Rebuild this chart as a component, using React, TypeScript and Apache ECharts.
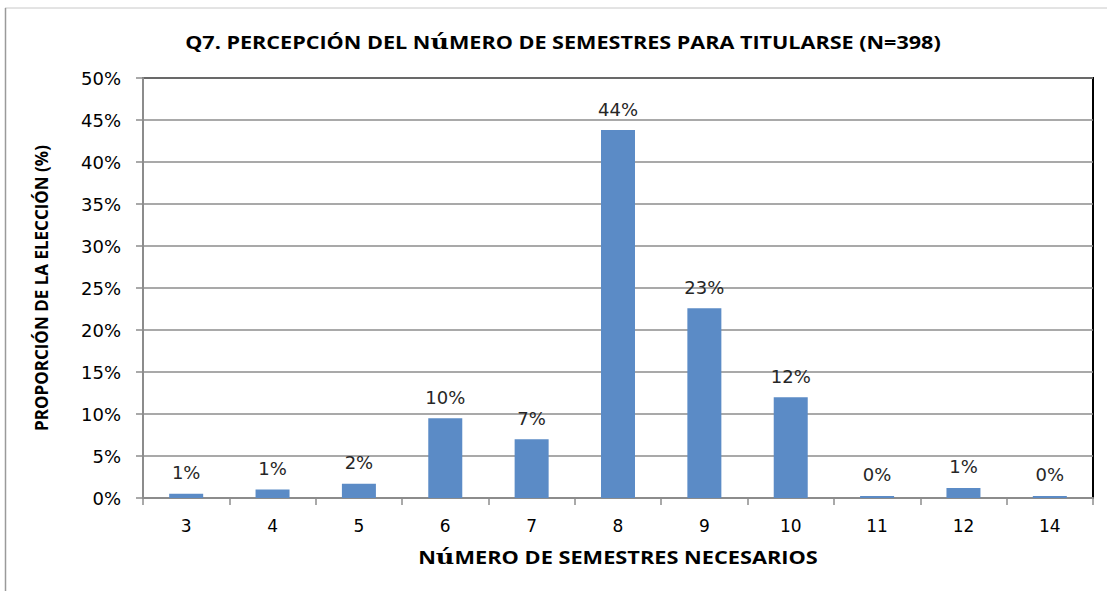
import React, { useEffect, useRef } from "react";
import * as echarts from "echarts";

const categories = ["3", "4", "5", "6", "7", "8", "9", "10", "11", "12", "14"];
const values = [0.5, 1.0, 1.7, 9.5, 7.0, 43.8, 22.6, 12.0, 0.25, 1.2, 0.25];
const valueLabels = ["1%", "1%", "2%", "10%", "7%", "44%", "23%", "12%", "0%", "1%", "0%"];
const yTicks = [0, 5, 10, 15, 20, 25, 30, 35, 40, 45, 50];
const titleText = "Q7. PERCEPCIÓN DEL N{u|ú}MERO DE SEMESTRES PARA TITULARSE (N=398)";
const xName = "N{u|ú}MERO DE SEMESTRES NECESARIOS";
const yName = "PROPORCIÓN DE LA ELECCIÓN (%)";

export default function App() {
  const ref = useRef<HTMLDivElement>(null);
  useEffect(() => {
    if (!ref.current) return;
    const chart = echarts.init(ref.current, undefined, { renderer: "svg" });
    const font = "'Open Sans', 'DejaVu Sans', sans-serif";
    const num = "'DejaVu Sans', sans-serif";
    const rich = {
      u: { fontFamily: "'DejaVu Serif', serif", fontWeight: "bold", fontSize: 20, fill: "#000", color: "#000" },
    };
    chart.setOption({
      animation: false,
      backgroundColor: "#ffffff",
      graphic: [
        { type: "line", shape: { x1: 5, y1: 8, x2: 1107, y2: 8 }, style: { stroke: "#c8c8c8", lineWidth: 1 } },
        { type: "line", shape: { x1: 5.5, y1: 8, x2: 5.5, y2: 591 }, style: { stroke: "#9a9a9a", lineWidth: 1.5 } },
        {
          type: "text",
          x: 563,
          y: 42,
          scaleX: 1.27,
          style: {
            text: titleText,
            align: "center",
            verticalAlign: "middle",
            font: "bold 17px " + font,
            fill: "#000",
            rich,
          },
        },
        {
          type: "text",
          x: 618,
          y: 557,
          scaleX: 1.28,
          style: {
            text: xName,
            align: "center",
            verticalAlign: "middle",
            font: "bold 17px " + font,
            fill: "#000",
            rich,
          },
        },
      ],
      grid: {
        left: 143,
        right: 14,
        top: 78,
        bottom: 93,
        show: true,
        borderColor: "#000",
        borderWidth: 2,
      },
      xAxis: {
        type: "category",
        data: categories,
        axisLine: { lineStyle: { color: "#8c8c8c", width: 2 } },
        axisTick: { show: true, length: 7, lineStyle: { color: "#8c8c8c", width: 1.5 } },
        axisLabel: { fontFamily: num, fontSize: 17, color: "#000", margin: 19 },
      },
      yAxis: {
        type: "value",
        min: 0,
        max: 50,
        interval: 5,
        name: yName,
        nameLocation: "middle",
        nameGap: 93,
        nameRotate: 90,
        nameTextStyle: { fontFamily: font, fontWeight: "bold", fontSize: 17, color: "#000" },
        axisLine: { show: true, lineStyle: { color: "#8c8c8c", width: 2 } },
        axisTick: { show: true, length: 7, lineStyle: { color: "#8c8c8c", width: 1.5 } },
        axisLabel: {
          fontFamily: num,
          fontSize: 18,
          color: "#000",
          margin: 22,
          formatter: (v: number) => (yTicks.includes(v) ? v + "%" : ""),
        },
        splitLine: { lineStyle: { color: "#8c8c8c", width: 1.5 } },
      },
      series: [
        {
          type: "bar",
          data: values,
          barWidth: 34,
          itemStyle: { color: "#5b8bc6" },
          label: {
            show: true,
            position: "top",
            distance: 12,
            fontFamily: num,
            fontSize: 18,
            color: "#262626",
            formatter: (p: any) => valueLabels[p.dataIndex],
          },
        },
      ],
    });
    return () => chart.dispose();
  }, []);
  return <div ref={ref} style={{ position: "absolute", left: 0, top: 0, width: 1107, height: 591 }} />;
}
